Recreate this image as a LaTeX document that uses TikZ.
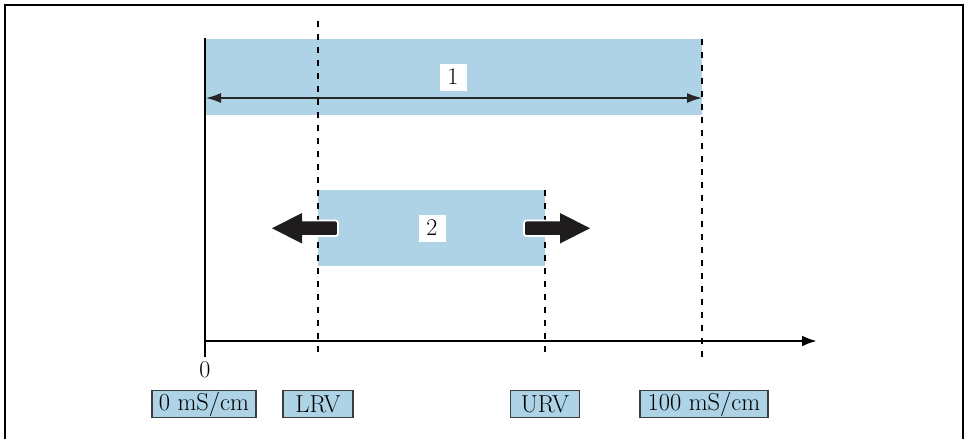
\documentclass[tikz,border=0pt]{standalone}
\usepackage{fontspec}
\usepackage{tikz}
\usetikzlibrary{arrows.meta}

\definecolor{barblue}{RGB}{174,211,230}
\definecolor{boxgray}{RGB}{60,60,60}
\definecolor{arrowblack}{RGB}{30,28,28}

\tikzset{
  limit/.style={black, line width=1.5pt, dash pattern=on 6pt off 7pt},
  valuebox/.style={draw=boxgray, line width=1.5pt, fill=barblue, inner sep=0pt,
    minimum height=27pt, font=\fontsize{24.5}{26}\selectfont},
  numbox/.style={fill=white, inner sep=0pt, minimum width=27pt, minimum height=27pt,
    font=\fontsize{24}{26}\selectfont},
  fatshaft/.style={fill=arrowblack, draw=white, line width=1.8pt, rounded corners=2.5pt},
  fathead/.style={fill=arrowblack}
}

\begin{document}
\begin{tikzpicture}[x=1pt,y=-1pt]
\useasboundingbox (0,0) rectangle (967,439);
% frame
\draw [black, line width=2pt] (5,445) -- (5,5) -- (963,5) -- (963,445);
% bars
\fill [barblue] (205,39) rectangle (702,115);
\fill [barblue] (318,190) rectangle (545,266);
% dashed limits
\draw [limit] (318,21) -- (318,358);
\draw [limit] (545,190) -- (545,358);
\draw [limit] (702,39) -- (702,358);
% axes
\coordinate (origin) at (205,341);
\coordinate (xend) at (817,341);
\coordinate (ytop) at (205,38);
\draw [black, line width=2.6pt] (ytop) -- (205,357);
\draw [black, line width=2.6pt, -{Latex[length=15pt,width=11pt]}] (origin) -- (xend);
\node (zero) at (205,370) {\fontsize{24}{26}\selectfont 0};
% full range
\coordinate (fullleft) at (206,98);
\coordinate (fullright) at (702,98);
\draw [black!85, line width=1.5pt, {Latex[length=15pt,width=10pt]}-{Latex[length=15pt,width=10pt]}] (fullleft) -- (fullright);
\node [numbox] (one) at (453,77) {1};
% adjustable range
\node [numbox] (two) at (432,228) {2};
\draw [fatshaft] (338,220.5) rectangle (298,236);
\fill [fathead] (302,213) -- (272,228.25) -- (302,243.5) -- cycle;
\draw [fatshaft] (524,220.5) rectangle (564,236);
\fill [fathead] (560,213) -- (590,228.25) -- (560,243.5) -- cycle;
% values
\node [valuebox, minimum width=104pt] (min) at (204,404) {0 mS/cm};
\node [valuebox, minimum width=70pt] (lrv) at (318,404) {LRV};
\node [valuebox, minimum width=69pt] (urv) at (545,404) {URV};
\node [valuebox, minimum width=128pt] (max) at (704,404) {100 mS/cm};
\end{tikzpicture}
\end{document}
